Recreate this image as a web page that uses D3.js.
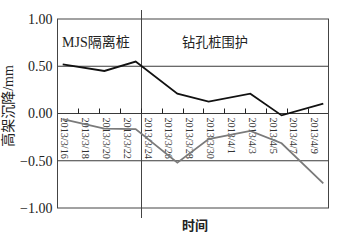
<!DOCTYPE html>
<html><head><meta charset="utf-8">
<script src="https://cdn.jsdelivr.net/npm/d3@7"></script>
<style>body{margin:0;background:#fff}svg{display:block}</style>
</head><body><svg id="c" width="340" height="240"></svg>
<script>
const dates = ["2013-03-16","2013-03-20","2013-03-23","2013-03-27","2013-03-30","2013-04-03","2013-04-06","2013-04-10"];
const mjsValues = [0.52, 0.45, 0.55, 0.21, 0.125, 0.21, -0.02, 0.105];
const boredValues = [-0.06, -0.16, -0.165, -0.52, -0.27, -0.185, -0.315, -0.74];
const tickLabels = ["2013/3/16","2013/3/18","2013/3/20","2013/3/22","2013/3/24","2013/3/26","2013/3/28","2013/3/30","2013/4/1","2013/4/3","2013/4/5","2013/4/7","2013/4/9"];
const yTicks = [1.0, 0.5, 0.0, -0.5, -1.0];
const gridValues = [0.5, 0.0, -0.5];
const yTitle = "高架沉降/mm";
const xTitle = "时间";
const zone1 = "MJS隔离桩";
const zone2 = "钻孔桩围护";
const splitDate = "2013-03-24";

const svg = d3.select("#c");
const L = 57.5, R = 328.5, T = 19, B = 208;
const parse = d3.timeParse("%Y-%m-%d");
const DAY = 864e5;
const x = d3.scaleTime().domain([parse("2013-03-16"), parse("2013-04-11")]).range([L, R]);
const y = d3.scaleLinear().domain([-1, 1]).range([B, T]);
const mid = s => new Date(parse(s).getTime() + DAY/2);
const serif = "'Liberation Serif','Times New Roman','Noto Sans CJK SC',serif";
const cjk = "'Liberation Serif','Noto Sans CJK SC',sans-serif";

// grid
svg.append("g").selectAll("line").data(gridValues).join("line")
  .attr("x1", L).attr("x2", R).attr("y1", d => y(d)).attr("y2", d => y(d))
  .attr("stroke", "#3a3a3a").attr("stroke-width", 1);

// frame
svg.append("rect").attr("x", L).attr("y", T).attr("width", R - L).attr("height", B - T)
  .attr("fill", "none").attr("stroke", "#444").attr("stroke-width", 1);

// split line
const sx = Math.round(x(parse(splitDate))) + 0.5;
svg.append("line").attr("x1", sx).attr("x2", sx).attr("y1", 10).attr("y2", 218)
  .attr("stroke", "#444").attr("stroke-width", 1);

// y axis labels
const yAxis = d3.axisLeft(y).tickValues(yTicks).tickSize(0).tickPadding(5)
  .tickFormat(d => (d < 0 ? "\u2212" : "") + Math.abs(d).toFixed(2));
const ga = svg.append("g").attr("transform", `translate(${L},0)`).call(yAxis);
ga.select(".domain").remove();
ga.selectAll("text").attr("font-family", serif).attr("font-size", 14).attr("fill", "#222");

// x ticks on zero line (every 2 days)
const tickDates = tickLabels.slice(1).map(s => { const p = s.split("/"); return new Date(+p[0], +p[1]-1, +p[2]); });
svg.append("g").selectAll("line").data(tickDates).join("line")
  .attr("x1", d => Math.round(x(d)) + 0.5).attr("x2", d => Math.round(x(d)) + 0.5)
  .attr("y1", y(0)).attr("y2", y(0) - 5).attr("stroke", "#222").attr("stroke-width", 1);

// rotated date labels
svg.append("g").selectAll("text").data(tickLabels).join("text")
  .attr("transform", d => { const p = d.split("/"); const dt = new Date(+p[0], +p[1]-1, +p[2]); return `translate(${x(new Date(dt.getTime()+DAY/2)) + 2},${y(0) + 4}) rotate(90)`; })
  .attr("dy", "0.35em").attr("font-family", serif).attr("font-size", 10.2).attr("fill", "#333")
  .text(d => d);

// lines
const line = d3.line().x(d => x(mid(d[0]))).y(d => y(d[1]));
svg.append("path").datum(dates.map((d, i) => [d, boredValues[i]])).attr("d", line)
  .attr("fill", "none").attr("stroke", "#7a7a7a").attr("stroke-width", 1.8);
svg.append("path").datum(dates.map((d, i) => [d, mjsValues[i]])).attr("d", line)
  .attr("fill", "none").attr("stroke", "#111").attr("stroke-width", 1.8);

// annotations
svg.append("text").attr("x", 62).attr("y", 47).attr("font-family", cjk).attr("font-size", 14).attr("fill", "#222").text(zone1);
svg.append("text").attr("x", 182).attr("y", 47).attr("font-family", "'Noto Sans CJK SC',sans-serif").attr("font-size", 13.2).attr("fill", "#222").text(zone2);

// titles
svg.append("text").attr("transform", "translate(13,106) rotate(-90)").attr("text-anchor", "middle")
  .attr("font-family", cjk).attr("font-size", 14).attr("fill", "#222").text(yTitle);
svg.append("text").attr("x", 195).attr("y", 230).attr("text-anchor", "middle")
  .attr("font-family", "'Noto Sans CJK SC',sans-serif").attr("font-weight", "bold").attr("font-size", 13).attr("fill", "#222").text(xTitle);
</script></body></html>
